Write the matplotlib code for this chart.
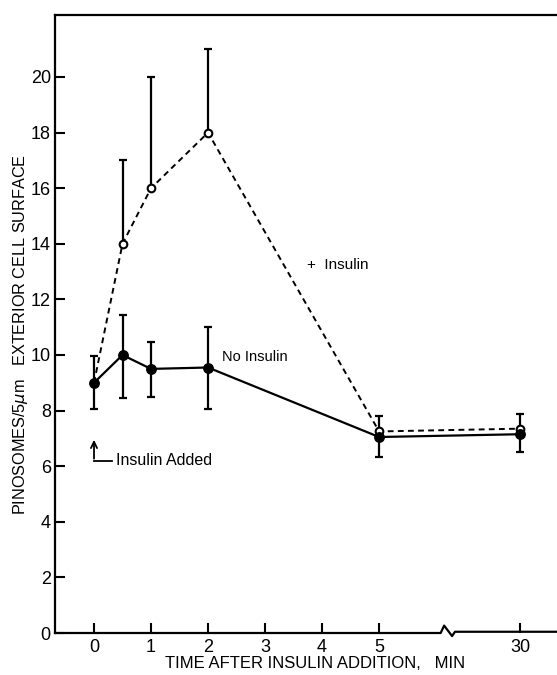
import numpy as np
import matplotlib
matplotlib.use('Agg')
import matplotlib.pyplot as plt
import matplotlib.transforms as mtransforms

plt.rcParams['font.family'] = ['Liberation Sans', 'DejaVu Sans']

# data
times = np.array([0, 0.5, 1, 2, 5, 30])
no_insulin = [9.0, 10.0, 9.5, 9.55, 7.05, 7.15]
no_insulin_lo = [0.95, 1.55, 1.0, 1.5, 0.72, 0.65]
no_insulin_hi = [0.95, 1.45, 0.95, 1.45, 0.0, 0.0]
plus_insulin = [9.0, 14.0, 16.0, 18.0, 7.25, 7.35]
plus_insulin_hi = [0.0, 3.0, 4.0, 3.0, 0.55, 0.52]

xtick_labels = ['0', '1', '2', '3', '4', '5', '30']
ytick_values = [0, 2, 4, 6, 8, 10, 12, 14, 16, 18, 20]

# broken axis: everything after 5 min is squeezed to one slot
pos_30 = 7.47
xpos = np.where(times <= 5, times, pos_30)
xtick_pos = [0, 1, 2, 3, 4, 5, pos_30]

fig = plt.figure(figsize=(5.57, 6.75), dpi=100)
ax = fig.add_axes([55 / 557, 42 / 675, 502 / 557, 618 / 675])

# + insulin (dashed, open circles)
ax.errorbar(xpos, plus_insulin, yerr=[np.zeros(len(times)), plus_insulin_hi],
            fmt='none', ecolor='black', elinewidth=1.6, capsize=2.7, capthick=1.6, zorder=2)
ax.plot(xpos, plus_insulin, color='black', lw=1.4, dashes=(3, 2.2), zorder=3)
ax.plot(xpos[1:], plus_insulin[1:], 'o', ms=5.5, mfc='white', mec='black', mew=1.5, zorder=4)

# no insulin (solid, filled circles)
ax.errorbar(xpos, no_insulin, yerr=[no_insulin_lo, no_insulin_hi],
            fmt='none', ecolor='black', elinewidth=1.6, capsize=2.7, capthick=1.6, zorder=2)
ax.plot(xpos, no_insulin, color='black', lw=1.6, zorder=3)
ax.plot(xpos, no_insulin, 'o', ms=6.8, color='black', zorder=5)

# labels on the curves
ax.text(3.74, 13.24, '+  Insulin', fontsize=11, va='center', ha='left')
ax.text(2.25, 9.93, 'No Insulin', fontsize=10.5, va='center', ha='left')
ax.text(0.39, 6.19, 'Insulin Added', fontsize=11.5, va='center', ha='left')
ax.plot([0, 0.32], [6.19, 6.19], color='black', lw=1.3)
ax.annotate('', xy=(0, 7.05), xytext=(0, 6.17),
            arrowprops=dict(arrowstyle='->,head_length=0.45,head_width=0.22', color='black', lw=1.3))

ax.set_xlim(-0.684, 8.12)
ax.set_ylim(0, 22.23)

ax.set_xticks(xtick_pos)
ax.set_xticklabels(xtick_labels)
ax.set_yticks(ytick_values)
ax.tick_params(direction='in', length=7, width=1.5, labelsize=13, pad=4)
ax.tick_params(axis='y', pad=3)

ax.spines['right'].set_visible(False)
ax.spines['bottom'].set_visible(False)
ax.spines['left'].set_linewidth(1.6)
ax.spines['top'].set_linewidth(1.6)

# bottom axis line with a break mark
trans = mtransforms.blended_transform_factory(ax.transData, ax.transAxes)
bx = [-0.684, 6.08, 6.14, 6.28, 6.33, 8.12]
by = [0, 0, 0.012, -0.005, 0.002, 0.002]
ax.plot(bx, by, color='black', lw=1.6, transform=trans, clip_on=False, zorder=6)

fig.text(315 / 557, 1 - 663 / 675, 'TIME AFTER INSULIN ADDITION,   MIN',
         fontsize=12, ha='center', va='center')
fig.text(21 / 557, 1 - 334 / 675, 'PINOSOMES/5$\\mu$m   EXTERIOR CELL SURFACE',
         fontsize=11.7, ha='center', va='center', rotation=90)

fig.savefig('out.png', dpi=100)
